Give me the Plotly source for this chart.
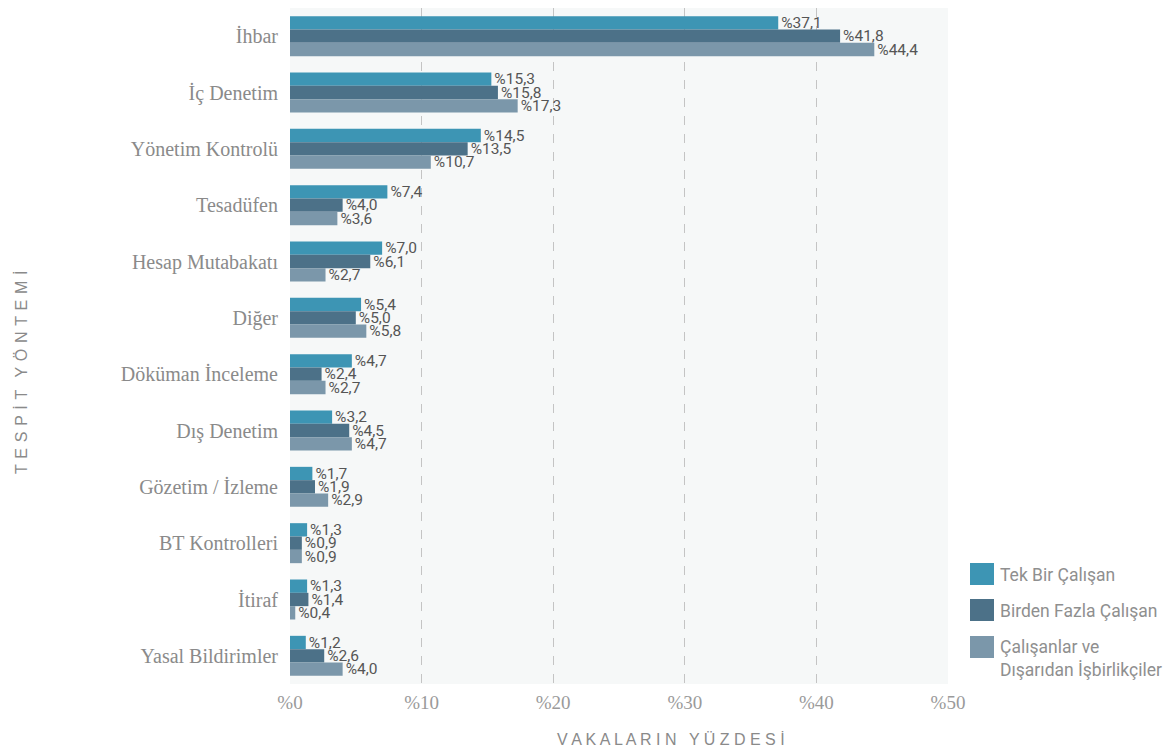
import plotly.graph_objects as go

categories = ["İhbar", "İç Denetim", "Yönetim Kontrolü", "Tesadüfen", "Hesap Mutabakatı",
              "Diğer", "Döküman İnceleme", "Dış Denetim", "Gözetim / İzleme",
              "BT Kontrolleri", "İtiraf", "Yasal Bildirimler"]
series_names = ["Tek Bir Çalışan", "Birden Fazla Çalışan", "Çalışanlar ve<br>Dışarıdan İşbirlikçiler"]
tek_bir = [37.1, 15.3, 14.5, 7.4, 7.0, 5.4, 4.7, 3.2, 1.7, 1.3, 1.3, 1.2]
birden_fazla = [41.8, 15.8, 13.5, 4.0, 6.1, 5.0, 2.4, 4.5, 1.9, 0.9, 1.4, 2.6]
isbirlikci = [44.4, 17.3, 10.7, 3.6, 2.7, 5.8, 2.7, 4.7, 2.9, 0.9, 0.4, 4.0]
x_ticks = [0, 10, 20, 30, 40, 50]
x_ticklabels = ["%0", "%10", "%20", "%30", "%40", "%50"]
x_title = "VAKALARIN YÜZDESİ"
y_title = "TESPİT YÖNTEMİ"

colors = ["#3d95b4", "#4c7188", "#7b97aa"]
label_font = dict(family="Roboto, sans-serif", size=15.5, color="#555555")

OFF = 8  # page body margin
W, H = 1164, 748
ML, MR, MT, MB = 282, 224, 0, 72
PW, PH = W - ML - MR, H - MT - MB

def px_x(px):
    return (px - OFF - ML) / PW

def px_y(py):
    return (H - MB - (py - OFF)) / PH

def fmt(v):
    return "%" + f"{v:.1f}".replace(".", ",")

def spaced(s, extra=""):
    words = s.split(" ")
    return " \u2002".join((" " + extra).join(list(w)) for w in words)

fig = go.Figure()
for name, vals, col in zip(series_names, [tek_bir, birden_fazla, isbirlikci], colors):
    fig.add_trace(go.Bar(
        y=categories, x=vals, name=name, orientation="h",
        marker=dict(color=col, line=dict(width=0)),
        text=[fmt(v) for v in vals], textposition="outside", cliponaxis=False,
        constraintext="none", textfont=label_font, showlegend=False,
    ))

# manual legend
legend_tops = [563, 599, 636]
legend_text_y = [575, 611, 658]
shapes = []
annotations = []
for name, col, top, ty in zip(series_names, colors, legend_tops, legend_text_y):
    shapes.append(dict(type="rect", xref="paper", yref="paper",
                       x0=px_x(970), x1=px_x(994), y0=px_y(top + 22), y1=px_y(top),
                       fillcolor=col, line=dict(width=0)))
    annotations.append(dict(text=name, xref="paper", yref="paper", x=px_x(998), y=px_y(ty),
                            xanchor="left", yanchor="middle", align="left", showarrow=False,
                            font=dict(family="Roboto, sans-serif", size=17.5, color="#8f8f8f")))

annotations += [
    dict(text=spaced(x_title), xref="paper", yref="paper",
         x=px_x(671), y=px_y(739), xanchor="center", yanchor="middle", showarrow=False,
         font=dict(family="Liberation Sans, Arial, sans-serif", size=16, color="#8a8a8a")),
    dict(text=spaced(y_title, "\u200a"), xref="paper", yref="paper",
         x=px_x(21), y=px_y(372), xanchor="center", yanchor="middle", showarrow=False, textangle=-90,
         font=dict(family="Liberation Sans, Arial, sans-serif", size=16, color="#8a8a8a")),
]

fig.update_layout(
    width=W, height=H,
    margin=dict(l=ML, r=MR, t=MT, b=MB, autoexpand=False),
    barmode="group", bargap=0.29, bargroupgap=0,
    plot_bgcolor="#f6f8f8", paper_bgcolor="white",
    showlegend=False,
    xaxis=dict(range=[0, 50], tickvals=x_ticks, ticktext=x_ticklabels,
               showgrid=True, griddash="dash", gridcolor="#c4c4c4", gridwidth=1,
               zeroline=False, showline=False, automargin=False,
               tickfont=dict(family="Liberation Serif, serif", size=19, color="#9a9a9a"),
               ticks="", ticklabelstandoff=5),
    yaxis=dict(autorange="reversed", showgrid=False, zeroline=False, ticks="", automargin=False,
               tickfont=dict(family="Liberation Serif, serif", size=20, color="#8a8a8a"),
               ticklabelstandoff=11),
    shapes=shapes,
    annotations=annotations,
)

fig.write_html("out.html")
